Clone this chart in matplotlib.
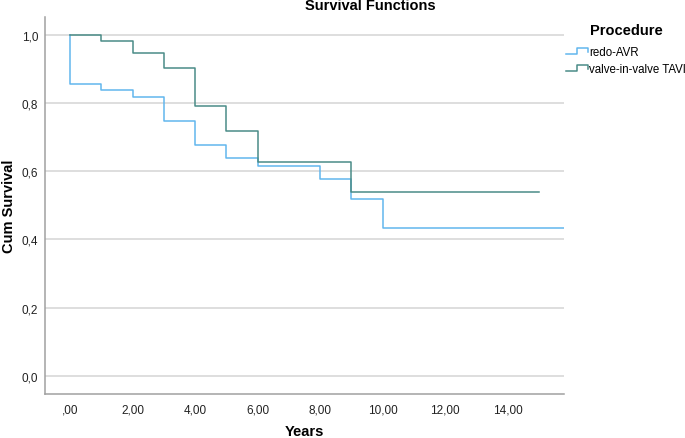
import matplotlib
matplotlib.use("Agg")
import matplotlib.pyplot as plt
import matplotlib.ticker as mticker
from matplotlib.legend_handler import HandlerBase
from matplotlib.lines import Line2D

plt.rcParams["font.family"] = ["Liberation Sans", "DejaVu Sans"]

# Kaplan-Meier estimates
redo_years = [0, 0, 1, 2, 3, 4, 5, 6, 8, 9, 10, 16]
redo_surv = [1.0, 0.856, 0.838, 0.818, 0.749, 0.676, 0.638, 0.616, 0.578, 0.52, 0.434, 0.434]
viv_years = [0, 1, 2, 3, 4, 5, 6, 9, 15]
viv_surv = [1.0, 0.982, 0.948, 0.903, 0.792, 0.718, 0.628, 0.539, 0.539]

groups = ["redo-AVR", "valve-in-valve TAVI"]
colors = ["#62b6ee", "#4a8c87"]
x_ticks = [0, 2, 4, 6, 8, 10, 12, 14]
y_ticks = [0.0, 0.2, 0.4, 0.6, 0.8, 1.0]


class StepHandler(HandlerBase):
    """Legend key drawn as a small step, like SPSS does."""

    def create_artists(self, legend, orig_handle, xdescent, ydescent,
                       width, height, fontsize, trans):
        x0, h = -xdescent, height
        xs = [x0, x0 + 0.5 * width, x0 + 0.5 * width, x0 + width, x0 + width]
        ys = [0.1 * h, 0.1 * h, 0.9 * h, 0.9 * h, 0.4 * h]
        ys = [y - ydescent for y in ys]
        line = Line2D(xs, ys, color=orig_handle.get_color(), lw=1.1)
        line.set_transform(trans)
        return [line]


fig = plt.figure(figsize=(6.85, 4.39), dpi=100)
ax = fig.add_axes([0.0657, 0.1002, 0.7577, 0.8588])

h1, = ax.step(redo_years, redo_surv, where="post", color=colors[0], lw=1.1)
h2, = ax.step(viv_years, viv_surv, where="post", color=colors[1], lw=1.1)

ax.set_xlim(-0.8, 15.8)
ax.set_ylim(-0.054, 1.053)
ax.set_xticks(x_ticks)
ax.set_yticks(y_ticks)


def fmt_x(v, pos):
    s = f"{v:.2f}".replace(".", ",")
    return s[1:] if s.startswith("0") else s


ax.xaxis.set_major_formatter(mticker.FuncFormatter(fmt_x))
ax.yaxis.set_major_formatter(mticker.FuncFormatter(lambda v, p: f"{v:.1f}".replace(".", ",")))
ax.tick_params(length=0, labelsize=8.5, colors="#222222")
ax.tick_params(axis="x", pad=7)
ax.tick_params(axis="y", pad=5)

ax.grid(axis="y", color="#d4d4d4", lw=1.1)
ax.set_axisbelow(True)
for side in ["top", "right"]:
    ax.spines[side].set_visible(False)
for side in ["left", "bottom"]:
    ax.spines[side].set_color("#a0a0a0")
    ax.spines[side].set_linewidth(1.1)

ax.set_xlabel("Years", fontsize=10.5, fontweight="bold", va="center")
ax.xaxis.set_label_coords(0.5, (395 - 432) / 377)
ax.set_ylabel("Cum Survival", fontsize=10.5, fontweight="bold", va="center")
ax.yaxis.set_label_coords((9 - 45) / 519, 0.5)

fig.text(370 / 685, 1 - 6 / 439, "Survival Functions", ha="center", va="center",
         fontsize=10.5, fontweight="bold")
fig.text(626 / 685, 1 - 31 / 439, "Procedure", ha="center", va="center",
         fontsize=10.5, fontweight="bold")

leg = fig.legend([h1, h2], groups, handler_map={Line2D: StepHandler()},
                 loc="upper left", bbox_to_anchor=(566 / 685, 1 - 47 / 439),
                 frameon=False, fontsize=8.3, borderpad=0,
                 handlelength=1.9, handletextpad=0.08, labelspacing=0.42,
                 borderaxespad=0)

fig.savefig("out.png", dpi=100)
